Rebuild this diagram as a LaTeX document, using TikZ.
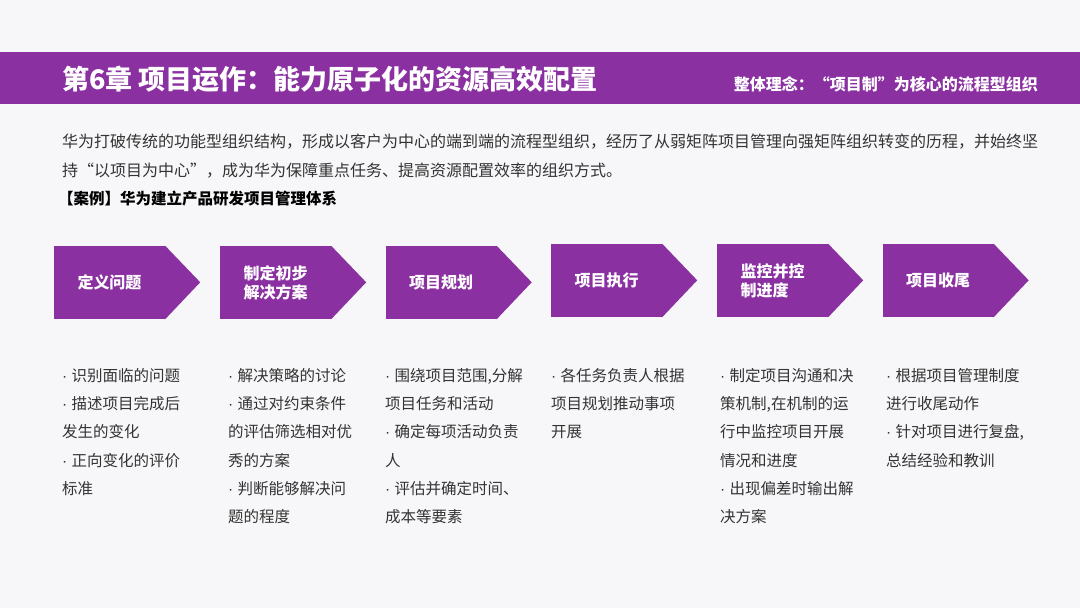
\documentclass[tikz,border=0pt]{standalone}
\usepackage{fontspec}
\setmainfont{Noto Sans CJK SC}
\newfontfamily\latinfont{Liberation Sans}
\newcommand{\itemdot}{{\latinfont · }}
\usepackage{xcolor}
\definecolor{purpleBar}{HTML}{8A30A1}
\definecolor{pageBack} {HTML}{F7F7F9}
\definecolor{bodyText} {HTML}{333333}
\begin{document}
\begin{tikzpicture}[
    x=1pt, y=-1pt,
    stepbox/.style={fill=purpleBar, minimum width=111pt, minimum height=73pt,
                    inner sep=0pt, text=white, align=left,
                    font=\fontsize{16}{19}\selectfont\bfseries},
    steptip/.style={fill=purpleBar},
    bullets/.style={anchor=north west, inner sep=0pt, align=left,
                    text=bodyText, font=\fontsize{15.5}{28.3}\selectfont},
]
\useasboundingbox (0,0) rectangle (1080,608);
\fill[pageBack] (0,0) rectangle (1080,608);

% --- header bar ---
\fill[purpleBar] (0,52) rectangle (1080,104);
\node[anchor=west, inner sep=0pt, text=white,
      font=\fontsize{27}{32}\selectfont\bfseries] (title) at (62,79)
    {第6章 项目运作：能力原子化的资源高效配置};
\node[anchor=east, inner sep=0pt, text=white,
      font=\fontsize{16}{19}\selectfont\bfseries] (motto) at (1038,84)
    {整体理念：“项目制”为核心的流程型组织};

% --- intro ---
\node[anchor=north west, inner sep=0pt, align=left, text=bodyText,
      font=\fontsize{16}{29}\selectfont] (intro) at (62,134)
    {华为打破传统的功能型组织结构，形成以客户为中心的端到端的流程型组织，经历了从弱矩阵项目管理向强矩阵组织转变的历程，并始终坚\\
     持“以项目为中心”，成为华为保障重点任务、提高资源配置效率的组织方式。};
\node[anchor=north west, inner sep=0pt, text=black,
      font=\fontsize{15.5}{19}\selectfont\bfseries] (case) at (58,191)
    {【案例】华为建立产品研发项目管理体系};

% --- steps ---
\node[stepbox] (s1) at (109.5,282.5) {定义问题};
\node[stepbox] (s2) at (275.5,282.5) {制定初步\\解决方案};
\node[stepbox] (s3) at (441,282.5)   {项目规划};
\node[stepbox] (s4) at (606.5,280.5) {项目执行};
\node[stepbox] (s5) at (772.5,280.5) {监控并控\\制进度};
\node[stepbox] (s6) at (938,280.5)   {项目收尾};
\fill[steptip] (s1.north east) -- ++(35,36.5) -- (s1.south east) -- cycle;
\fill[steptip] (s2.north east) -- ++(35,36.5) -- (s2.south east) -- cycle;
\fill[steptip] (s3.north east) -- ++(35,36.5) -- (s3.south east) -- cycle;
\fill[steptip] (s4.north east) -- ++(35,36.5) -- (s4.south east) -- cycle;
\fill[steptip] (s5.north east) -- ++(35,36.5) -- (s5.south east) -- cycle;
\fill[steptip] (s6.north east) -- ++(35,36.5) -- (s6.south east) -- cycle;

% --- details under each step ---
\node[bullets] (d1) at (62,368)
    {\itemdot 识别面临的问题\\\itemdot 描述项目完成后\\发生的变化\\\itemdot 正向变化的评价\\标准};
\node[bullets] (d2) at (228,368)
    {\itemdot 解决策略的讨论\\\itemdot 通过对约束条件\\的评估筛选相对优\\秀的方案\\\itemdot 判断能够解决问\\题的程度};
\node[bullets] (d3) at (385,368)
    {\itemdot 围绕项目范围,分解\\项目任务和活动\\\itemdot 确定每项活动负责\\人\\\itemdot 评估并确定时间、\\成本等要素};
\node[bullets] (d4) at (551,368)
    {\itemdot 各任务负责人根据\\项目规划推动事项\\开展};
\node[bullets] (d5) at (720,368)
    {\itemdot 制定项目沟通和决\\策机制,在机制的运\\行中监控项目开展\\情况和进度\\\itemdot 出现偏差时输出解\\决方案};
\node[bullets] (d6) at (886,368)
    {\itemdot 根据项目管理制度\\进行收尾动作\\\itemdot 针对项目进行复盘,\\总结经验和教训};
\end{tikzpicture}
\end{document}
